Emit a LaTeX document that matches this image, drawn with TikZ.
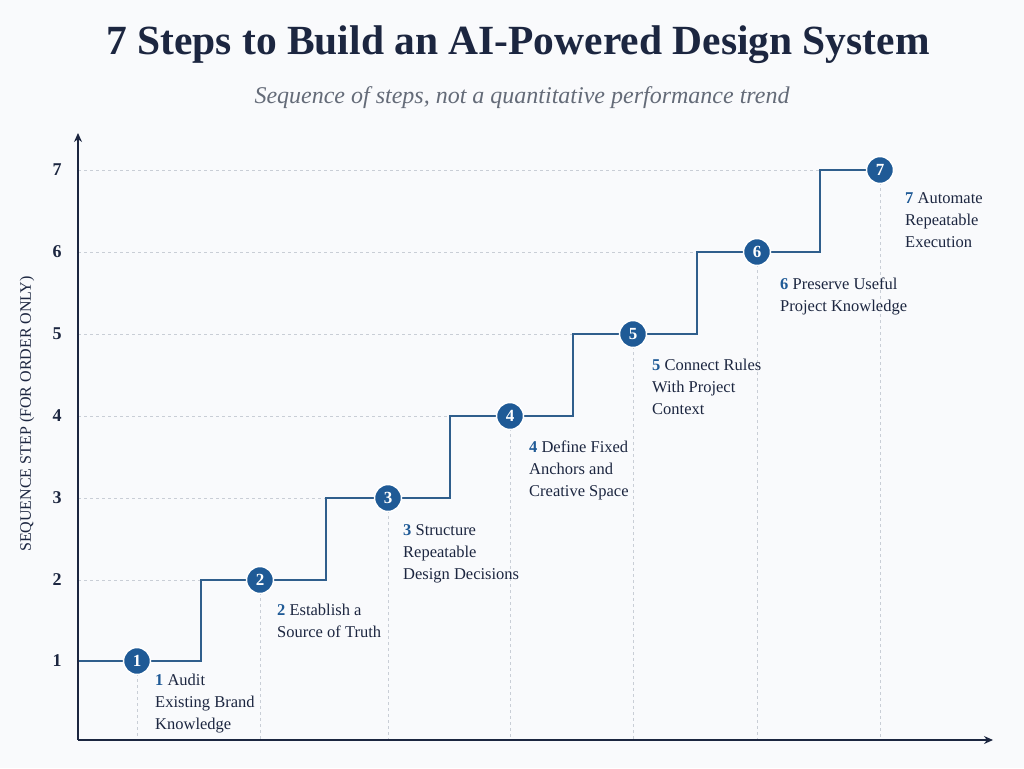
\documentclass[tikz,border=0pt]{standalone}
\usepackage{fontspec}
\setmainfont{Liberation Serif}
\usetikzlibrary{arrows.meta,calc}
\definecolor{bg}{HTML}{F9FAFC}
\definecolor{navy}{HTML}{1C2640}
\definecolor{mblue}{HTML}{1F5A96}
\definecolor{steel}{HTML}{2F5E8C}
\definecolor{gridc}{HTML}{C9CED6}
\definecolor{subgray}{HTML}{646B78}
\tikzset{
  axis/.style={draw=navy, line width=1.4pt, -{Stealth[length=9pt,width=8pt]}},
  gridline/.style={draw=gridc, line width=0.8pt, dash pattern=on 3pt off 3pt},
  stair/.style={draw=steel, line width=1.8pt},
  marker/.style={circle, minimum size=27pt, inner sep=0pt, fill=mblue, draw=white, line width=1.5pt, text=white, font=\fontsize{17}{17}\selectfont\bfseries},
  steplabel/.style={anchor=north west, align=left, inner sep=0pt, text=navy, font=\fontsize{16.5}{22}\selectfont},
  ticklabel/.style={text=navy, font=\fontsize{18}{18}\selectfont\bfseries},
}
\newcommand{\sn}[1]{{\color{mblue}\bfseries #1}}
\begin{document}
\begin{tikzpicture}[x=1pt,y=-1pt]
\useasboundingbox[fill=bg] (0,0) rectangle (1024,768);
% title
\node[text=navy, font=\fontsize{41.5}{41.5}\selectfont\bfseries] (title) at (518,45) {7 Steps to Build an AI-Powered Design System};
\node[text=subgray, font=\fontsize{24}{24}\selectfont\itshape] (sub) at (522,98) {Sequence of steps, not a quantitative performance trend};
% axes coordinates
\coordinate (O) at (78,740);
\coordinate (ytip) at (78,133);
\coordinate (xtip) at (993,740);
% markers (positions)
\coordinate (m1) at (137,661);
\coordinate (m2) at (260,580);
\coordinate (m3) at (388,498);
\coordinate (m4) at (510,416);
\coordinate (m5) at (633,334);
\coordinate (m6) at (757,252);
\coordinate (m7) at (880,170);
% grid lines
\foreach \i in {1,...,7} {
  \draw[gridline] (O |- m\i) -- (m\i);
  \draw[gridline] (m\i) -- (m\i |- O);
}
% riser coordinates
\coordinate (s0) at (78,661);
\coordinate (r1) at (201,0);
\coordinate (r2) at (326,0);
\coordinate (r3) at (450,0);
\coordinate (r4) at (573,0);
\coordinate (r5) at (697,0);
\coordinate (r6) at (820,0);
\draw[stair] (s0) -- (r1 |- m1) -- (r1 |- m2) -- (r2 |- m2) -- (r2 |- m3) -- (r3 |- m3) -- (r3 |- m4) -- (r4 |- m4) -- (r4 |- m5) -- (r5 |- m5) -- (r5 |- m6) -- (r6 |- m6) -- (r6 |- m7) -- (m7);
% markers
\foreach \i in {1,...,7} {
  \node[marker] (n\i) at (m\i) {\i};
}
% axes
\draw[axis] (O) -- (ytip);
\draw[axis] (O) -- (xtip);
% tick labels
\foreach \i in {1,...,7} {
  \node[ticklabel] (t\i) at (57,0 |- m\i) {\i};
}
\node[rotate=90, text=navy, font=\fontsize{16}{16}\selectfont] (ylab) at (27,414) {SEQUENCE STEP (FOR ORDER ONLY)};
% step labels
\node[steplabel] (l1) at (155,674) {\sn{1} Audit\\Existing Brand\\Knowledge};
\node[steplabel] (l2) at (277,604) {\sn{2} Establish a\\Source of Truth};
\node[steplabel] (l3) at (403,524) {\sn{3} Structure\\Repeatable\\Design Decisions};
\node[steplabel] (l4) at (529,441) {\sn{4} Define Fixed\\Anchors and\\Creative Space};
\node[steplabel] (l5) at (652,359) {\sn{5} Connect Rules\\With Project\\Context};
\node[steplabel] (l6) at (780,278) {\sn{6} Preserve Useful\\Project Knowledge};
\node[steplabel] (l7) at (905,192) {\sn{7} Automate\\Repeatable\\Execution};
\end{tikzpicture}
\end{document}
